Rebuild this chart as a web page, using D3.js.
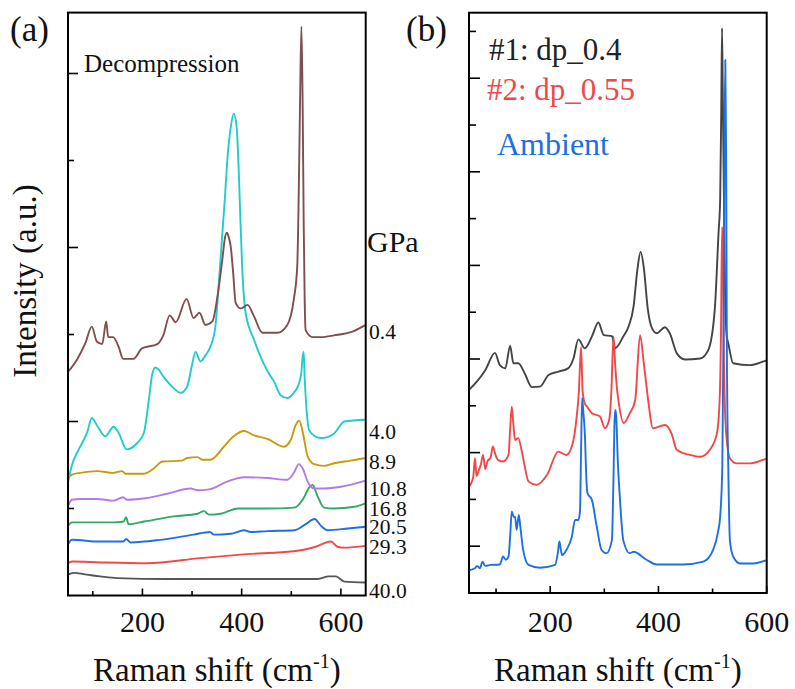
<!DOCTYPE html>
<html><head><meta charset="utf-8">
<script src="https://cdn.jsdelivr.net/npm/d3@7"></script>
<style>
body{margin:0;background:#fff}
svg{display:block}
text{font-family:"Liberation Serif","Times New Roman",serif}
</style>
</head><body>
<svg id="c" width="795" height="689"></svg>
<script>
// ---------- Panel (a) data : decompression spectra ----------
const pressuresA = ["0.4","4.0","8.9","10.8","16.8","20.5","29.3","40.0"];
const colorsA = ["#7f4e4e","#22cccc","#c99a0e","#b37be8","#33a867","#1f6fe5","#f24a4a","#555555"];
// label positions in intensity units (baseline level)
const labelYA = [3.03, 1.89, 1.54, 1.23, 1.00, 0.79, 0.56, 0.06];
const s04 = [[50,2.57],[68,2.71],[85,2.90],[98,3.09],[108,2.92],[119,2.89],[127,3.15],[131,2.97],[141,2.97],[152,2.86],[161,2.72],[182,2.72],[199,2.84],[230,2.89],[242,2.99],[255,3.22],[267,3.14],[289,3.41],[303,3.19],[315,3.25],[327,3.11],[341,3.15],[351,3.43],[361,3.86],[366,4.10],[370,4.17],[374,4.12],[378,4.01],[383,3.70],[388,3.36],[398,3.30],[412,3.34],[424,3.22],[442,3.02],[472,3.02],[492,3.11],[505,3.40],[512,3.78],[515,4.6],[518,5.8],[520.5,6.54],[523,5.6],[525,4.3],[527,3.4],[529,3.05],[543,2.97],[560,2.97],[586,2.99],[626,3.04],[650,3.11]];
const s40 = [[50,1.30],[58,1.50],[71,1.67],[89,1.88],[98,2.04],[108,1.96],[125,1.83],[142,1.94],[152,1.87],[168,1.68],[189,1.75],[203,1.87],[213,2.25],[220,2.55],[226,2.62],[232,2.60],[243,2.51],[260,2.40],[277,2.33],[290,2.40],[300,2.65],[307,2.80],[317,2.69],[327,2.76],[337,2.86],[347,3.09],[354,3.59],[361,4.16],[366,4.55],[371,5.0],[378,5.38],[384,5.54],[390,5.38],[394,4.9],[397,4.4],[401,3.78],[408,3.25],[425,2.94],[440,2.72],[452,2.58],[466,2.45],[479,2.30],[492,2.27],[505,2.33],[513,2.40],[520,2.55],[523,2.75],[525,2.80],[527,2.5],[529,2.29],[536,1.90],[548,1.83],[560,1.81],[586,1.86],[607,2.00],[650,2.02]];
const s89 = [[50,1.35],[58,1.39],[75,1.41],[108,1.43],[142,1.41],[159,1.43],[166,1.40],[203,1.40],[223,1.46],[240,1.54],[280,1.55],[290,1.58],[311,1.59],[321,1.56],[337,1.56],[364,1.71],[384,1.83],[405,1.89],[425,1.84],[452,1.80],[485,1.71],[499,1.79],[509,1.96],[516,2.01],[523,1.88],[533,1.60],[546,1.51],[566,1.49],[586,1.52],[620,1.55],[650,1.58]];
const s108 = [[50,1.03],[58,1.10],[75,1.11],[108,1.11],[142,1.09],[161,1.13],[169,1.10],[209,1.12],[250,1.17],[297,1.23],[311,1.21],[334,1.22],[371,1.31],[405,1.36],[452,1.35],[492,1.33],[506,1.42],[515,1.51],[523,1.46],[533,1.31],[546,1.23],[566,1.23],[600,1.25],[650,1.32]];
const s168 = [[50,0.80],[58,0.84],[102,0.84],[142,0.84],[162,0.85],[167,0.90],[172,0.82],[203,0.85],[263,0.91],[311,0.94],[324,0.97],[334,0.93],[358,0.94],[392,1.00],[452,1.00],[506,1.01],[523,1.10],[536,1.24],[543,1.27],[553,1.14],[566,1.01],[586,1.00],[627,1.02],[650,1.06]];
const s205 = [[50,0.59],[58,0.64],[115,0.62],[162,0.62],[167,0.65],[176,0.61],[236,0.64],[303,0.70],[336,0.73],[344,0.70],[378,0.71],[405,0.75],[418,0.73],[452,0.74],[506,0.75],[529,0.82],[547,0.88],[560,0.80],[573,0.75],[614,0.77],[650,0.79]];
const s293 = [[50,0.37],[58,0.39],[115,0.38],[209,0.37],[317,0.43],[398,0.47],[519,0.52],[549,0.56],[580,0.62],[593,0.56],[607,0.55],[650,0.57]];
const s400 = [[50,0.24],[61,0.26],[88,0.24],[115,0.22],[149,0.20],[250,0.19],[384,0.19],[553,0.19],[576,0.22],[590,0.22],[607,0.16],[650,0.15]];
const seriesA = [s04, s40, s89, s108, s168, s205, s293, s400];

// ---------- Panel (b) data ----------
const namesB = ["#1: dp_0.4", "#2: dp_0.55", "Ambient"];
const colorsB = ["#444444", "#f04848", "#1e6fe0"];
const dp04 = [[50,4.34],[64,4.51],[80,4.76],[98,5.13],[107,4.87],[117,4.80],[126,5.28],[132,4.91],[141,4.91],[153,4.69],[166,4.40],[181,4.41],[197,4.66],[215,4.73],[233,4.80],[243,5.01],[252,5.42],[264,5.23],[277,5.48],[289,5.78],[299,5.51],[314,5.49],[320,5.23],[335,5.48],[345,5.7],[354,6.12],[361,6.9],[367,7.29],[373,6.95],[380,6.1],[388,5.66],[397,5.55],[412,5.68],[421,5.55],[434,5.12],[449,4.99],[477,5.01],[492,5.19],[504,6.05],[511,7.69],[514,8.4],[516,10.3],[517.5,12.07],[519,10.5],[521,8.4],[523,6.5],[526,5.5],[529,5.34],[538,4.91],[569,4.87],[597,4.96],[600,4.97]];
const dp055 = [[50,2.27],[58,2.49],[61,2.88],[64,2.5],[67,2.59],[72,2.75],[76,2.95],[80,2.65],[84,2.81],[90,2.9],[94,3.13],[99,2.95],[104,2.84],[113,2.81],[123,2.95],[126,3.5],[129,3.98],[132,3.6],[135,3.27],[141,3.31],[147,3.06],[153,2.7],[160,2.38],[175,2.31],[194,2.52],[215,3.02],[230,2.95],[240,3.13],[249,3.77],[253,4.3],[257,5.26],[260,4.3],[264,4.05],[267,4.0],[277,3.84],[292,3.77],[301,3.52],[309,3.70],[313,4.3],[317,5.48],[320,4.9],[323,4.41],[326,4.12],[336,3.63],[347,3.84],[357,4.12],[366,5.51],[373,4.9],[378,4.41],[381,4.12],[390,3.52],[412,3.59],[424,3.41],[434,3.06],[458,2.95],[477,2.91],[495,3.06],[508,3.41],[513,4.12],[515.5,5.5],[517.5,7.82],[519.5,7.0],[521,5.0],[523,3.9],[526,3.3],[532,2.88],[545,2.77],[569,2.77],[597,2.86],[600,2.87]];
const ambient = [[50,0.49],[61,0.53],[65,0.58],[70,0.53],[75,0.67],[80,0.58],[90,0.60],[107,0.61],[113,0.78],[118,0.71],[123,0.78],[126,1.2],[129,1.74],[133,1.62],[135,1.63],[138,1.35],[142,1.67],[145,1.4],[150,0.92],[160,0.60],[181,0.54],[209,0.60],[214,0.85],[217,1.10],[220,0.9],[222,0.81],[230,0.92],[240,1.20],[246,1.56],[252,1.56],[255,1.74],[257,3.0],[259,4.17],[261,3.9],[264,3.41],[267,2.4],[269,2.13],[277,1.99],[286,1.42],[295,0.92],[304,0.85],[314,1.13],[317,2.5],[319,3.7],[320.5,3.91],[322,3.77],[325,2.8],[329,1.99],[335,1.13],[347,0.85],[354,0.88],[378,0.71],[397,0.61],[446,0.61],[483,0.67],[501,0.92],[510,1.3],[514,1.63],[518,2.7],[520.5,6.0],[522,9.5],[523.5,11.39],[525,9.5],[526.5,5.0],[529,2.7],[532,1.13],[538,0.78],[551,0.63],[576,0.63],[597,0.69],[600,0.70]];
const seriesB = [dp04, dp055, ambient];

// ---------- axes ----------
const xDomainA = [50, 650], yDomainA = [0, 6.7];
const xDomainB = [50, 600], yDomainB = [0, 12.4];
const xTickLabels = [200, 400, 600];
const xMinorA = [100, 300, 500], xMinorB = [100, 300, 500];
const yMajorA = [2, 4, 6], yMinorA = [1, 3, 5];
const yMajorB = [1, 3, 5, 7, 9, 11], yMinorB = [2, 4, 6, 8, 10, 12];

const svg = d3.select("#c");

const xA = d3.scaleLinear(xDomainA, [68, 365.7]);
const yA = d3.scaleLinear(yDomainA, [595.5, 12.6]);
const xB = d3.scaleLinear(xDomainB, [469, 766.7]);
const yB = d3.scaleLinear(yDomainB, [593, 12.7]);

function drawPanel(x, y, series, colors, xMajor, xMinor, yMajor, yMinor, yMajLen, yMinLen) {
  const g = svg.append("g");
  const line = d3.line().x(d => x(d[0])).y(d => y(d[1])).curve(d3.curveMonotoneX);
  series.forEach((s, i) => {
    g.append("path").attr("d", line(s)).attr("fill", "none")
      .attr("stroke", colors[i]).attr("stroke-width", 1.9).attr("stroke-linejoin", "round");
  });
  const [x0, x1] = x.range(), [y0, y1] = y.range();
  const bottom = y0;
  xMajor.forEach(v => g.append("line").attr("x1", x(v)).attr("x2", x(v)).attr("y1", bottom).attr("y2", bottom - 7).attr("stroke", "#000").attr("stroke-width", 1.6));
  xMinor.forEach(v => g.append("line").attr("x1", x(v)).attr("x2", x(v)).attr("y1", bottom).attr("y2", bottom - 4.5).attr("stroke", "#000").attr("stroke-width", 1.6));
  yMajor.forEach(v => g.append("line").attr("x1", x0).attr("x2", x0 + yMajLen).attr("y1", y(v)).attr("y2", y(v)).attr("stroke", "#000").attr("stroke-width", 1.6));
  yMinor.forEach(v => g.append("line").attr("x1", x0).attr("x2", x0 + yMinLen).attr("y1", y(v)).attr("y2", y(v)).attr("stroke", "#000").attr("stroke-width", 1.6));
  g.append("rect").attr("x", x0).attr("y", y1).attr("width", x1 - x0).attr("height", y0 - y1)
    .attr("fill", "none").attr("stroke", "#000").attr("stroke-width", 2);
  xMajor.forEach(v => g.append("text").attr("x", x(v)).attr("y", 632).attr("text-anchor", "middle")
    .attr("font-size", 30).attr("fill", "#111").text(v));
  const t = g.append("text").attr("x", (x0 + x1) / 2).attr("y", 681).attr("text-anchor", "middle")
    .attr("font-size", 33).attr("fill", "#111");
  t.append("tspan").text("Raman shift (cm");
  t.append("tspan").attr("font-size", 20).attr("dy", -13).text("-1");
  t.append("tspan").attr("dy", 13).text(")");
  return g;
}

drawPanel(xA, yA, seriesA.slice().reverse(), colorsA.slice().reverse(), xTickLabels, xMinorA, yMajorA, yMinorA, 10, 6);
drawPanel(xB, yB, seriesB, colorsB, xTickLabels, xMinorB, yMajorB, yMinorB, 11, 7);

svg.append("text").attr("x", 10).attr("y", 41).attr("font-size", 35).attr("fill", "#111").text("(a)");
svg.append("text").attr("x", 406).attr("y", 41).attr("font-size", 35).attr("fill", "#111").text("(b)");

svg.append("text").attr("transform", "translate(36,281) rotate(-90)").attr("text-anchor", "middle")
  .attr("font-size", 33).attr("fill", "#111").text("Intensity (a.u.)");

svg.append("text").attr("x", 84).attr("y", 72).attr("font-size", 25).attr("fill", "#111").text("Decompression");
svg.append("text").attr("x", 367).attr("y", 252).attr("font-size", 30).attr("fill", "#111").text("GPa");
pressuresA.forEach((p, i) => {
  svg.append("text").attr("x", 369).attr("y", yA(labelYA[i]) + 7.5).attr("font-size", 21.5).attr("fill", "#111").text(p);
});

const legY = [60, 100, 155], legX = [489, 487, 497], legSize = [31, 31, 32];
namesB.forEach((n, i) => {
  svg.append("text").attr("x", legX[i]).attr("y", legY[i]).attr("font-size", legSize[i])
    .attr("fill", i === 0 ? "#222" : colorsB[i]).text(n);
});
</script>
</body></html>
